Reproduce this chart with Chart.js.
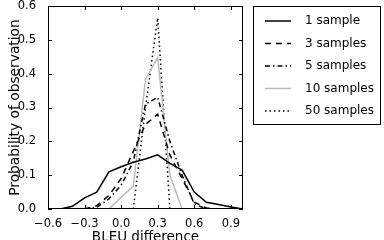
<!DOCTYPE html>
<html>
<head>
<meta charset="utf-8">
<script src="https://cdn.jsdelivr.net/npm/chart.js@4/dist/chart.umd.min.js"></script>
<style>
  html, body { margin: 0; padding: 0; background: #fff; overflow: hidden; }
  #wrap { position: absolute; left: 0; top: 0; width: 384px; height: 246px; }
</style>
</head>
<body>
<div id="wrap"><canvas id="chartCanvas"></canvas></div>
<script>
    // BLEU difference (x) vs probability of observation (y)
    const xOne = [-0.5, -0.4, -0.3, -0.2, -0.1, 0.0, 0.1, 0.2, 0.3, 0.4, 0.5, 0.6, 0.7, 0.8, 0.9, 1.0];
    const yOne = [0.0, 0.008, 0.033, 0.05, 0.11, 0.125, 0.138, 0.148, 0.16, 0.135, 0.115, 0.05, 0.02, 0.013, 0.006, 0.0];
    const xThree = [-0.3, -0.2, -0.1, 0.0, 0.1, 0.2, 0.3, 0.4, 0.5, 0.6, 0.7, 0.8];
    const yThree = [0.0, 0.01, 0.04, 0.09, 0.17, 0.25, 0.28, 0.16, 0.09, 0.02, 0.003, 0.0];
    const xFive = [-0.3, -0.2, -0.1, 0.0, 0.1, 0.2, 0.3, 0.4, 0.5, 0.6, 0.7];
    const yFive = [0.0, 0.005, 0.03, 0.07, 0.14, 0.31, 0.33, 0.2, 0.1, 0.015, 0.0];
    const xTen = [-0.1, 0.0, 0.1, 0.2, 0.3, 0.4, 0.5];
    const yTen = [0.0, 0.035, 0.067, 0.383, 0.448, 0.1, 0.0];
    const xFifty = [0.1, 0.2, 0.3, 0.4];
    const yFifty = [0.0, 0.3, 0.565, 0.0];
    const seriesLabels = ['1 sample', '3 samples', '5 samples', '10 samples', '50 samples'];

    const pts = (xs, ys) => xs.map((x, i) => ({ x: x, y: ys[i] }));
    const fmt = v => Number(v).toFixed(1).replace('-', '\u2212');

    // matplotlib-style frame with inward ticks on all four sides
    const framePlugin = {
        id: 'frame',
        afterDatasetsDraw(chart) {
            const { ctx, chartArea: a, scales } = chart;
            ctx.save();
            ctx.strokeStyle = '#000';
            ctx.lineWidth = 1;
            ctx.setLineDash([]);
            ctx.strokeRect(a.left + 0.5, a.top + 0.5, a.right - a.left - 1, a.bottom - a.top - 1);
            ctx.beginPath();
            scales.x.ticks.forEach(t => {
                const px = Math.round(scales.x.getPixelForValue(t.value)) + 0.5;
                ctx.moveTo(px, a.bottom); ctx.lineTo(px, a.bottom - 4);
                ctx.moveTo(px, a.top); ctx.lineTo(px, a.top + 4);
            });
            scales.y.ticks.forEach(t => {
                const py = Math.round(scales.y.getPixelForValue(t.value)) + 0.5;
                ctx.moveTo(a.left, py); ctx.lineTo(a.left + 4, py);
                ctx.moveTo(a.right, py); ctx.lineTo(a.right - 4, py);
            });
            ctx.stroke();
            ctx.restore();
        }
    };

    // boxed legend to the right of the plot
    const legendPlugin = {
        id: 'boxLegend',
        afterDraw(chart) {
            const ctx = chart.ctx;
            const left = 253, top = 6, w = 127, h = 118;
            ctx.save();
            ctx.strokeStyle = '#000';
            ctx.lineWidth = 1;
            ctx.setLineDash([]);
            ctx.strokeRect(left + 0.5, top + 0.5, w, h);
            ctx.font = '12px "DejaVu Sans"';
            ctx.fillStyle = '#000';
            ctx.textBaseline = 'middle';
            chart.data.datasets.forEach((ds, i) => {
                const y = 21 + i * 22.5;
                ctx.beginPath();
                ctx.strokeStyle = ds.borderColor;
                ctx.lineWidth = ds.borderWidth;
                ctx.setLineDash(ds.borderDash || []);
                ctx.moveTo(265, y);
                ctx.lineTo(291, y);
                ctx.stroke();
                ctx.setLineDash([]);
                ctx.fillText(ds.label, 305, y);
            });
            ctx.restore();
        }
    };

    const ctx = document.getElementById('chartCanvas').getContext('2d');
    new Chart(ctx, {
        type: 'line',
        data: {
            datasets: [
                { label: seriesLabels[0], data: pts(xOne, yOne), borderColor: '#000', borderWidth: 1.5 },
                { label: seriesLabels[1], data: pts(xThree, yThree), borderColor: '#000', borderWidth: 1.5, borderDash: [6, 5] },
                { label: seriesLabels[2], data: pts(xFive, yFive), borderColor: '#000', borderWidth: 1.5, borderDash: [5, 3, 1.5, 3] },
                { label: seriesLabels[3], data: pts(xTen, yTen), borderColor: '#bbbbbb', borderWidth: 1.5 },
                { label: seriesLabels[4], data: pts(xFifty, yFifty), borderColor: '#000', borderWidth: 1.5, borderDash: [1.5, 3] }
            ]
        },
        options: {
            responsive: true,
            maintainAspectRatio: false,
            animation: false,
            layout: { padding: { left: 0, right: 141, top: 6, bottom: 0 } },
            elements: { point: { radius: 0 }, line: { tension: 0, fill: false } },
            plugins: { legend: { display: false }, tooltip: { enabled: false } },
            scales: {
                x: {
                    type: 'linear',
                    min: -0.6,
                    max: 1.0,
                    grid: { display: false },
                    border: { display: false },
                    afterFit: s => { s.height = 37; s.paddingLeft = 0; s.paddingRight = 0; },
                    ticks: {
                        stepSize: 0.3,
                        includeBounds: false,
                        maxRotation: 0,
                        padding: 0,
                        color: '#000',
                        font: { family: 'DejaVu Sans', size: 11.5 },
                        callback: v => fmt(v)
                    },
                    title: {
                        display: true,
                        text: 'BLEU difference',
                        color: '#000',
                        padding: { top: 0, bottom: 0 },
                        font: { family: 'DejaVu Sans', size: 13.5 }
                    }
                },
                y: {
                    min: 0,
                    max: 0.6,
                    grid: { display: false },
                    border: { display: false },
                    afterFit: s => { s.width = 48; s.paddingTop = 0; s.paddingBottom = 0; },
                    ticks: {
                        stepSize: 0.1,
                        padding: 4,
                        color: '#000',
                        font: { family: 'DejaVu Sans', size: 11.5 },
                        callback: v => fmt(v)
                    },
                    title: {
                        display: true,
                        text: 'Probability of observation',
                        color: '#000',
                        padding: { top: 7, bottom: 0 },
                        font: { family: 'DejaVu Sans', size: 13.8 }
                    }
                }
            }
        },
        plugins: [framePlugin, legendPlugin]
    });
</script>
</body>
</html>
